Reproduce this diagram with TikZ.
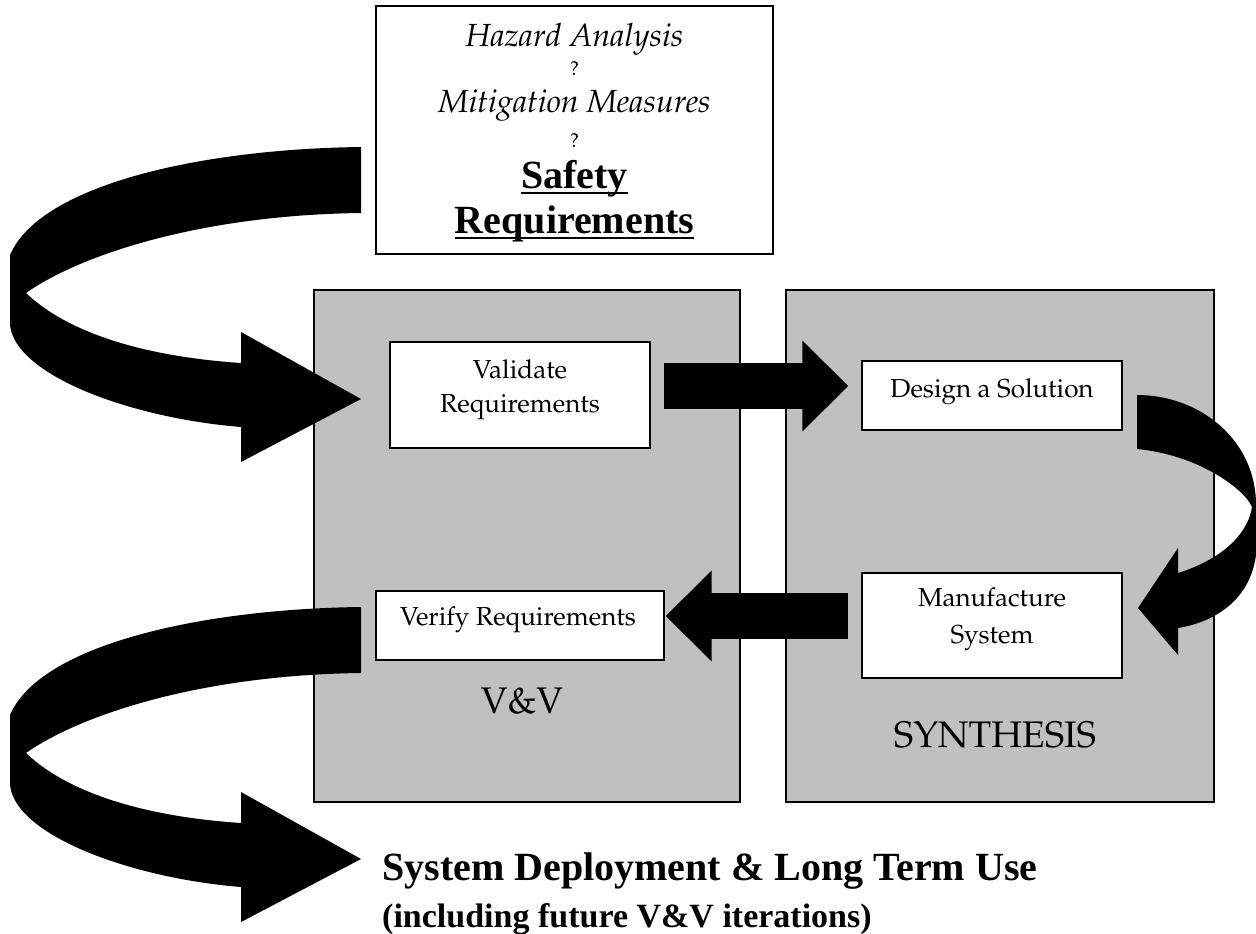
\documentclass[tikz,border=0pt]{standalone}
\usepackage[T1]{fontenc}
\usepackage{fontspec}
\usetikzlibrary{arrows.meta,calc}
\newfontfamily\timesfam{Liberation Serif}
\newcommand\palfam{\fontencoding{T1}\fontfamily{ppl}\selectfont}
\definecolor{panelgray}{RGB}{192,192,192}
\begin{document}
\begin{tikzpicture}[x=1pt,y=-1pt,
  panel/.style={draw=black, line width=1.5pt, fill=panelgray, inner sep=0pt},
  wbox/.style={draw=black, line width=1.3pt, fill=white, inner sep=0pt},
  boxtext/.style={font=\palfam\fontsize{26}{34}\selectfont, inner sep=0pt, anchor=base},
  bigtext/.style={font=\palfam\fontsize{37}{40}\selectfont, inner sep=0pt, anchor=base},
  ittext/.style={font=\palfam\itshape\fontsize{32}{36}\selectfont, inner sep=0pt, anchor=base},
  qtext/.style={font=\palfam\fontsize{20}{22}\selectfont, inner sep=0pt, anchor=base},
  safetext/.style={font=\timesfam\bfseries\fontsize{40}{44}\selectfont, inner sep=0pt, anchor=base},
  blk/.style={line width=46pt, -{Triangle[width=88pt,length=46pt]}, black},
  swirl/.style={fill=black},
]
\useasboundingbox (0,0) rectangle (1256,934);

% panels
\node[panel, minimum width=426pt, minimum height=512pt] (vv) at (527,546) {};
\node[panel, minimum width=428pt, minimum height=512pt] (syn) at (1000,546) {};

% top box
\node[wbox, minimum width=397pt, minimum height=248pt] (top) at (574.5,130) {};
\node[ittext] (hz) at (574.5,47) {Hazard Analysis};
\node[qtext] (q1) at (574.5,75) {?};
\node[ittext] (mm) at (574.5,112) {Mitigation Measures};
\node[qtext] (q2) at (574.5,147) {?};
\node[safetext] (sf) at (574.5,188) {Safety};
\node[safetext] (rq) at (574.5,233) {Requirements};
\draw[line width=2.5pt] ([yshift=-5pt]sf.base west) -- ([yshift=-5pt]sf.base east);
\draw[line width=2.5pt] ([yshift=-5pt]rq.base west) -- ([yshift=-5pt]rq.base east);

% inner boxes
\node[wbox, minimum width=260pt, minimum height=106pt] (val) at (520,395) {};
\node[boxtext] (valt1) at (520,378) {Validate};
\node[boxtext] (valt2) at (520,412) {Requirements};
\node[wbox, minimum width=288pt, minimum height=69pt] (ver) at (520,625.5) {};
\node[boxtext] (vert) at (518,625) {Verify Requirements};
\node[wbox, minimum width=260pt, minimum height=69pt] (des) at (992,395.5) {};
\node[boxtext] (dest) at (992,397) {Design a Solution};
\node[wbox, minimum width=260pt, minimum height=105pt] (man) at (992,625.5) {};
\node[boxtext] (mant1) at (992,606) {Manufacture};
\node[boxtext] (mant2) at (992,643) {System};

% panel labels
\node[bigtext] (vvl) at (522,713) {V\&V};
\node[bigtext] (synl) at (995,747) {SYNTHESIS};

% straight block arrows
\draw[blk] ([shift={(13,-9)}]val.east) -- ([shift={(-13,-9.5)}]des.west);
\draw[blk] ([shift={(-13,-9.5)}]man.west) -- ([shift={(1,-9.5)}]ver.east);

% top-left swirl arrow
\fill[swirl] (361,147) .. controls (200,149) and (40,185) .. (10,255)
  -- (10,325) .. controls (15,375) and (130,418) .. (241,427)
  -- (241,462) -- (361,399) -- (241,332) -- (241,363)
  .. controls (150,357) and (70,335) .. (26,293)
  .. controls (80,255) and (200,215) .. (361,213) -- cycle;

% bottom-left swirl arrow
\begin{scope}[shift={(0,460)}]
\fill[swirl] (361,147) .. controls (200,149) and (40,185) .. (10,255)
  -- (10,325) .. controls (15,375) and (130,418) .. (241,427)
  -- (241,462) -- (361,399) -- (241,332) -- (241,363)
  .. controls (150,357) and (70,335) .. (26,293)
  .. controls (80,255) and (200,215) .. (361,213) -- cycle;
\end{scope}

% right curved arrow
\fill[swirl] (1137,395) .. controls (1200,395) and (1256,440) .. (1256,505)
  -- (1256,555) .. controls (1250,600) and (1215,622) .. (1178,628)
  -- (1178,655) -- (1138,608) -- (1178,548) -- (1178,573)
  .. controls (1220,560) and (1248,535) .. (1252,507)
  .. controls (1245,490) and (1200,455) .. (1137,449) -- cycle;

% bottom text
\node[safetext, anchor=base west] (sd) at (382,880) {System Deployment \& Long Term Use};
\node[font=\timesfam\bfseries\fontsize{34}{38}\selectfont, inner sep=0pt, anchor=base west] (inc) at (382,927) {(including future V\&V iterations)};
\end{tikzpicture}
\end{document}
